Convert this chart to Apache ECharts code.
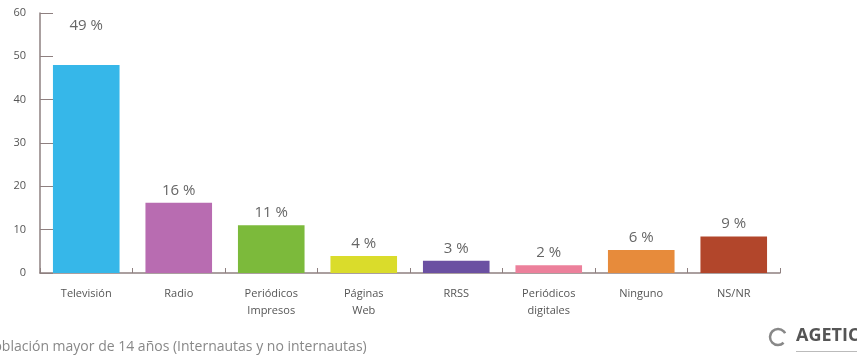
<!DOCTYPE html>
<html><head><meta charset="utf-8">
<script src="https://cdn.jsdelivr.net/npm/echarts@6/dist/echarts.min.js"></script>
<style>html,body{margin:0;padding:0;background:#fff}#c{width:857px;height:358px}</style>
</head><body><div id="c"></div>
<script>
const categories = ['Televisión','Radio','Periódicos\nImpresos','Páginas\nWeb','RRSS','Periódicos\ndigitales','Ninguno','NS/NR'];
const values = [48, 16.2, 11, 3.9, 2.8, 1.8, 5.3, 8.4];
const percentLabels = ['49 %','16 %','11 %','4 %','3 %','2 %','6 %','9 %'];
const colors = ['#36b7e9','#b86cb1','#7cba3b','#dadc2b','#6b50a2','#ec809b','#e78b3b','#b2462b'];
const yTicks = [0,10,20,30,40,50,60];

const chart = echarts.init(document.getElementById('c'));
const font = '"Open Sans", "Noto Sans", sans-serif';
chart.setOption({
  animation:false,
  grid:{left:40,right:77,top:13,bottom:85},
  xAxis:{type:'category',data:categories,
    axisLine:{lineStyle:{color:'#8e8080',width:1.5}},
    axisTick:{show:true,inside:true,length:5,lineStyle:{color:'#8e8080'}},
    axisLabel:{color:'#555',fontSize:11,fontFamily:font,lineHeight:17,margin:12}},
  yAxis:{type:'value',min:yTicks[0],max:yTicks[yTicks.length-1],interval:10,
    axisLine:{show:true,lineStyle:{color:'#8e8080',width:1.5}},
    axisTick:{show:true,inside:true,length:13,lineStyle:{color:'#8e8080'}},
    splitLine:{show:false},
    axisLabel:{color:'#555',fontSize:11,fontFamily:font,margin:14}},
  series:[{type:'bar',barWidth:'72%',
    data:values.map((v,i)=>({value:v,itemStyle:{color:colors[i]},
      label:{show:true,position:'top',formatter:percentLabels[i],color:'#666',fontSize:15,fontFamily:font,
        offset:i===0?[0,-27]:[0,0]}}))}],
  graphic:[
    {type:'text',left:-15,top:340,style:{text:'Población mayor de 14 años (Internautas y no internautas)',fill:'#888',font:'14px '+font}},
    {type:'text',left:796,top:327,style:{text:'AGETIC',fill:'#555',font:'bold 18px '+font}},
    {type:'arc',shape:{cx:778,cy:337,r:8,startAngle:0.8,endAngle:5.8},style:{stroke:'#888',lineWidth:2.5,fill:null}},
    {type:'rect',shape:{x:796,y:351,width:61,height:1},style:{fill:'#bbb'}}
  ]
});
</script></body></html>
